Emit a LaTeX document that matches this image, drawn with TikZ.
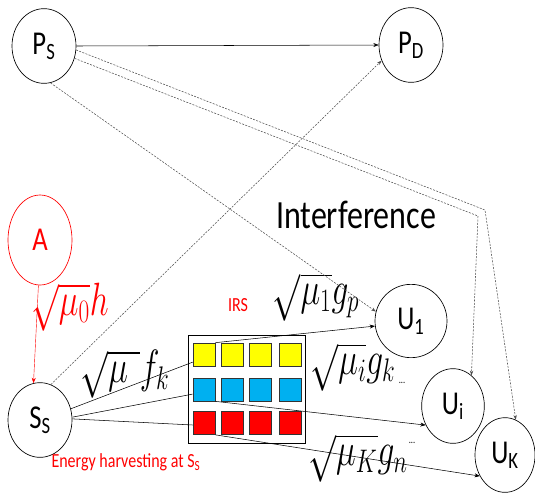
\RequirePackage{fix-cm}
\documentclass[tikz,border=0pt]{standalone}
\usepackage{fontspec}
\setmainfont{Carlito}[FakeStretch=0.8]
\usetikzlibrary{shapes.geometric,arrows.meta}
\definecolor{irsyellow}{HTML}{FFFF00}
\definecolor{irsblue}{HTML}{00B0F0}
\definecolor{irsred}{HTML}{FF0000}
\newcommand{\gainlabel}[1]{\scalebox{1}[1.4]{$#1$}}
\tikzset{
  user/.style={draw, ellipse, inner sep=0pt, line width=0.5pt, minimum width=48pt, minimum height=56pt, font=\fontsize{25}{25}\selectfont},
  arr/.style={-{Stealth[length=4pt,width=3pt]}, line width=0.4pt},
  interf/.style={black!70, dash pattern=on 1.5pt off 1pt, line width=0.4pt},
  elem/.style={draw=black!80, line width=0.5pt, minimum width=16.5pt, minimum height=17.25pt, inner sep=0pt},
  gain/.style={font=\fontsize{25}{25}\selectfont, inner sep=0pt}
}
\begin{document}
\begin{tikzpicture}[x=0.75pt,y=-0.75pt]
\useasboundingbox (0,0) rectangle (535,497);
% 主网络
\node[user] (PS) at (44,46) {P\textsubscript{S}};
\node[user] (PD) at (411,45) {P\textsubscript{D}};

% 次网络 能量源与发送端
\node[user, draw=red, text=red, minimum height=67.5pt] (A) at (40,240) {A};
\node[user] (SS) at (40,420) {S\textsubscript{S}};

% 用户
\node[user, minimum width=54pt, minimum height=55pt] (U1) at (411,321) {U\textsubscript{1}};
\node[user, minimum width=47pt] (Ui) at (453,406) {U\textsubscript{i}};
\node[user, minimum width=45pt] (UK) at (505,455) {U\textsubscript{K}};

% IRS
\node[draw, line width=0.6pt, minimum width=87.75pt, minimum height=81pt] (irs) at (246.5,389) {};
\foreach \r/\y/\c in {1/354.5/irsyellow, 2/389.5/irsblue, 3/423/irsred}
  \foreach \k/\x in {1/204, 2/232, 3/260, 4/290}
    \node[elem, fill=\c] (sq-\r-\k) at (\x,\y) {};

% 标签
\node (interference) at (356,215) {\fontsize{30}{30}\selectfont Interference};
\node[text=red] (irslabel) at (238,305) {\fontsize{15}{15}\selectfont IRS};
\node[text=red] (harvest) at (126,462) {\fontsize{15}{15}\selectfont Energy harvesting at S\textsubscript{S}};
\node[gain, text=red] (gainA) at (70,307) {\gainlabel{\sqrt{\mu_0}h}};
\node[gain] (gainF) at (125,374) {\gainlabel{\sqrt{\mu\ \ }f_k}};
\node[gain] (gain1) at (316,297) {\gainlabel{\sqrt{\mu_1}g_p}};
\node[gain] (gaini) at (353,367) {\gainlabel{\sqrt{\mu_i}g_k}};
\node[gain] (gainK) at (358,458) {\gainlabel{\sqrt{\mu_K}g_n}};
\node (dots1) at (402,383) {\fontsize{8}{8}\selectfont ...};
\node (dots2) at (412,443) {\fontsize{8}{8}\selectfont ...};

% ========== 连线 ==========
% 主链路
\draw[arr] (PS.east) -- (PD.west);

% 干扰
\draw[interf, -{Stealth[length=3.5pt,width=2.5pt]}] (PS.280) -- (U1.165);
\draw[interf, -{Stealth[length=3.5pt,width=2.5pt]}] (SS.73) -- (PD.208);
\coordinate (bendK) at (485,210);
\coordinate (bendI) at (478,216);
\draw[interf, -{Stealth[length=3.5pt,width=2.5pt]}] (PS.353) -- (bendK) -- (UK.73);
\draw[interf, -{Stealth[length=3.5pt,width=2.5pt]}] (PS.338) -- (bendI) -- (Ui.59);

% 能量收集
\draw[red, arr, line width=0.3pt] (A.268) -- (SS.100);

% S_S -> IRS
\draw[line width=0.4pt] (SS.20) -- (sq-1-1.214);
\draw[line width=0.4pt] (SS.5) -- (sq-2-1.202);
\draw[line width=0.4pt] (SS.2) -- (sq-3-1.190);

% IRS -> 用户
\draw[arr] (sq-1-1.north east) -- (U1.188);
\draw[arr] (sq-2-1.south east) -- (Ui.215);
\draw[arr] (sq-3-1.south east) -- (UK.220);
\end{tikzpicture}
\end{document}
